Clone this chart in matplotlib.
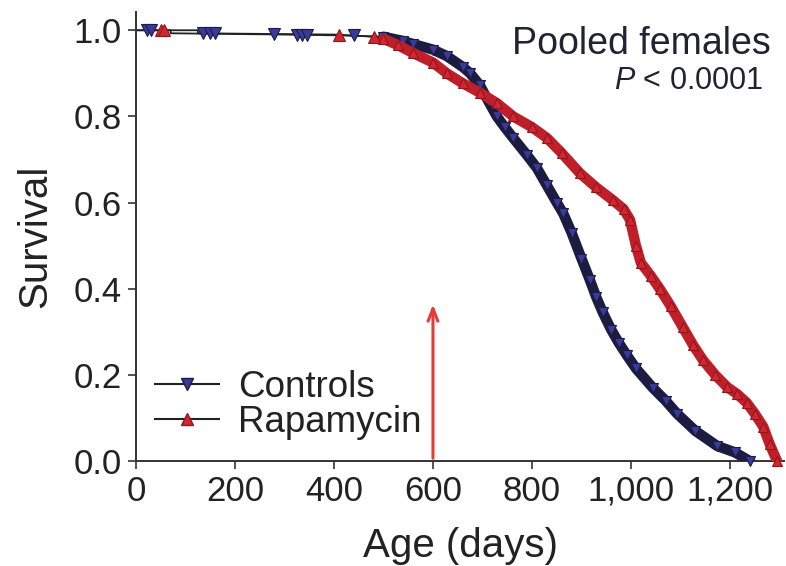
"""Survival curves, pooled females (controls vs rapamycin)"""

import numpy as np
import matplotlib
matplotlib.use('Agg')
import matplotlib.pyplot as plt
from matplotlib.lines import Line2D

plt.rcParams['font.family'] = ['Liberation Sans', 'DejaVu Sans']
plt.rcParams['mathtext.fontset'] = 'custom'
plt.rcParams['mathtext.it'] = 'Liberation Sans:italic'
plt.rcParams['mathtext.rm'] = 'Liberation Sans'

# Kaplan-Meier curves (age in days, survival fraction)
ctrl_age = [0, 70, 70, 300, 420, 500, 540, 560, 600, 628, 660, 675, 695, 712,
            729, 745, 762, 790, 810, 830, 850, 863, 880, 900, 917, 930, 943,
            960, 975, 992, 1010, 1044, 1070, 1093, 1130, 1174, 1210, 1240]
ctrl_surv = [1.0, 1.0, 0.993, 0.99, 0.988, 0.985, 0.975, 0.968, 0.955, 0.94,
             0.915, 0.90, 0.872, 0.835, 0.80, 0.775, 0.75, 0.71, 0.68, 0.64,
             0.60, 0.575, 0.53, 0.47, 0.42, 0.38, 0.345, 0.305, 0.275, 0.245,
             0.215, 0.17, 0.14, 0.11, 0.07, 0.035, 0.02, 0.0]

rapa_age = [0, 125, 125, 400, 480, 500, 530, 560, 600, 628, 660, 695, 730, 762,
            800, 830, 860, 897, 930, 964, 985, 998, 1010, 1020, 1040, 1058,
            1080, 1105, 1125, 1145, 1170, 1194, 1215, 1234, 1250, 1267, 1280,
            1295]
rapa_surv = [1.0, 1.0, 0.993, 0.99, 0.985, 0.98, 0.965, 0.947, 0.925, 0.90,
             0.877, 0.855, 0.83, 0.80, 0.775, 0.75, 0.715, 0.668, 0.635, 0.605,
             0.585, 0.56, 0.50, 0.46, 0.43, 0.40, 0.36, 0.31, 0.27, 0.235, 0.20,
             0.172, 0.155, 0.135, 0.11, 0.08, 0.04, 0.0]

# censored animals on the early plateau
ctrl_cens_age = [22, 30, 135, 150, 160, 278, 325, 335, 345, 440]
ctrl_cens_surv = [1.0, 1.0, 0.993, 0.993, 0.993, 0.991, 0.99, 0.99, 0.99, 0.988]
rapa_cens_age = [50, 56, 410, 480]
rapa_cens_surv = [1.0, 1.0, 0.99, 0.985]

treatment_start = 600  # days

ctrl_blue = '#3a3a9c'
ctrl_dark = '#1c1c42'
rapa_red = '#d42630'
rapa_line = '#bf1f29'
rapa_dark = '#8e1820'
text_col = '#222222'

fig = plt.figure(figsize=(7.86, 5.66), dpi=100)
ax = fig.add_axes([0.173, 0.1855, 0.825, 0.793])

ca = np.array(ctrl_age)
cs = np.array(ctrl_surv)
ra = np.array(rapa_age)
rs = np.array(rapa_surv)
cm = ca >= 500
rm = ra >= 500

# thin plateau lines
ax.plot(ca, cs, color='#222222', lw=1.3, zorder=2)
ax.plot(ra, rs, color='#222222', lw=1.3, zorder=2)

# dense part of the curves
ax.plot(ca[cm], cs[cm], color=ctrl_dark, lw=7.5, solid_capstyle='round',
        solid_joinstyle='round', zorder=3)
ax.plot(ca[cm], cs[cm], ls='none', marker='v', ms=7, mfc=ctrl_blue,
        mec=ctrl_dark, mew=0.8, zorder=4, clip_on=False)
ax.plot(ra[rm], rs[rm], color=rapa_line, lw=7.5, solid_capstyle='round',
        solid_joinstyle='round', zorder=5)
ax.plot(ra[rm], rs[rm], ls='none', marker='^', ms=7, mfc=rapa_red,
        mec=rapa_dark, mew=0.8, zorder=6, clip_on=False)

# censor marks
ax.plot(ctrl_cens_age, ctrl_cens_surv, ls='none', marker='v', ms=8,
        mfc=ctrl_blue, mec=ctrl_dark, mew=0.8, zorder=4, clip_on=False)
ax.plot(rapa_cens_age, rapa_cens_surv, ls='none', marker='^', ms=8,
        mfc=rapa_red, mec=rapa_dark, mew=0.8, zorder=6, clip_on=False)

# start of treatment
ax.annotate('', xy=(treatment_start, 0.37), xytext=(treatment_start, 0.0),
            arrowprops=dict(arrowstyle='->,head_width=0.35,head_length=0.9',
                            color='#e83a36', lw=2.2), zorder=7)

ax.set_xlim(0, 1310)
ax.set_ylim(0, 1.042)
ax.set_xticks([0, 200, 400, 600, 800, 1000, 1200])
ax.set_yticks([0.0, 0.2, 0.4, 0.6, 0.8, 1.0])
ax.xaxis.set_major_formatter(plt.FuncFormatter(lambda x, _: f'{int(x):,}'))
ax.yaxis.set_major_formatter(plt.FuncFormatter(lambda y, _: f'{y:.1f}'))

for side in ['top', 'right']:
    ax.spines[side].set_visible(False)
for side in ['left', 'bottom']:
    ax.spines[side].set_color('#333333')
    ax.spines[side].set_linewidth(1.4)

ax.tick_params(direction='out', length=6, width=1.2, colors='#333333',
               labelsize=25, labelcolor=text_col, pad=4)

ax.set_xlabel('Age (days)', fontsize=29, color=text_col, labelpad=14)
ax.set_ylabel('Survival', fontsize=29, color=text_col, labelpad=14)

fig.text(0.98, 0.905, 'Pooled females', fontsize=27, color='#222233',
         ha='right', va='baseline')
fig.text(0.971, 0.843, r'$\mathit{P}$ < 0.0001', fontsize=22, color='#222233',
         ha='right', va='baseline')

handles = [
    Line2D([], [], color='#222222', lw=1.5, marker='v', ms=8,
           mfc=ctrl_blue, mec=ctrl_dark),
    Line2D([], [], color='#222222', lw=1.5, marker='^', ms=8,
           mfc=rapa_red, mec=rapa_dark),
]
ax.legend(handles, ['Controls', 'Rapamycin'], loc='lower left',
          bbox_to_anchor=(155 / 786, 1 - 440 / 566),
          bbox_transform=fig.transFigure, frameon=False, fontsize=26.5,
          handlelength=1.75, handletextpad=0.5, labelspacing=0.0,
          borderpad=0, borderaxespad=0, labelcolor=text_col)

fig.savefig('out.png', dpi=100)
plt.close(fig)
